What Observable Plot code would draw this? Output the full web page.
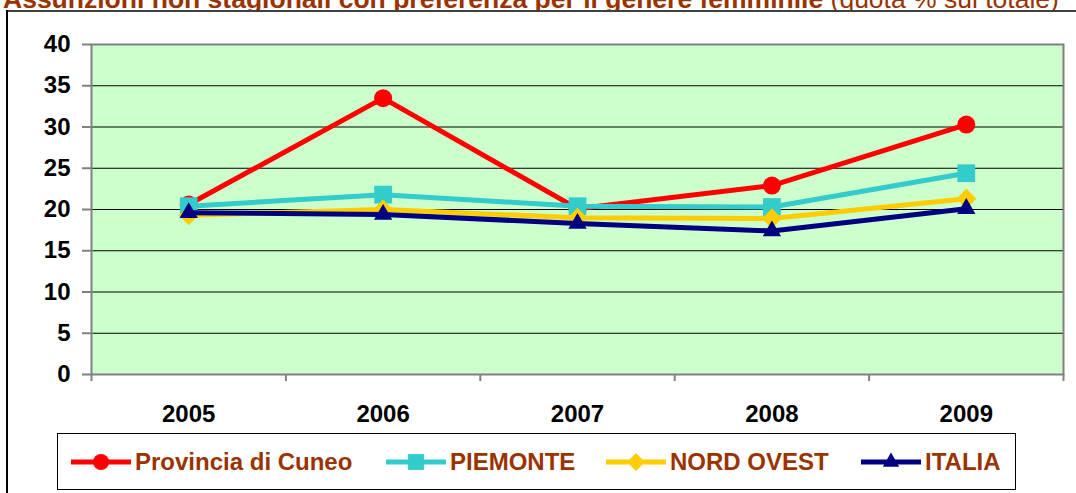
<!DOCTYPE html>
<html>
<head>
<meta charset="utf-8">
<script src="https://cdn.jsdelivr.net/npm/d3@7"></script>
<script src="https://cdn.jsdelivr.net/npm/@observablehq/plot@0.6"></script>
<style>
  html, body { margin: 0; padding: 0; background: #fff; }
  #wrap { position: relative; width: 1076px; height: 493px; overflow: hidden; font-family: "Liberation Sans", Arial, sans-serif; }
  #title { position: absolute; left: 0; top: 0; width: 1076px; height: 10px; overflow: hidden; }
  #title span.t { position: absolute; left: 3px; top: -14.5px; white-space: nowrap; font-size: 26.5px; line-height: 26.5px; color: #993300; }
  #frameTop { position: absolute; left: 7px; top: 10px; width: 1069px; height: 2px; background: #404040; }
  #frameLeft { position: absolute; left: 6px; top: 10px; width: 2px; height: 483px; background: #000; }
  #chart { position: absolute; left: 0; top: 0; }
  #legend { position: absolute; left: 57px; top: 433px; width: 959px; height: 57px; border: 1.5px solid #000; box-sizing: border-box; background: #fff; }
  .item { position: absolute; top: 0; height: 100%; display: flex; align-items: center; }
  .item span { font-size: 24px; font-weight: bold; color: #993300; white-space: nowrap; margin-left: 4px; }
</style>
</head>
<body>
<div id="wrap">
  <div id="title"><span class="t"><b>Assunzioni non stagionali con preferenza per il genere femminile</b> (quota % sul totale)</span></div>
  <div id="chart"></div>
  <div id="frameTop"></div>
  <div id="frameLeft"></div>
  <div id="legend"></div>
</div>
<script>
// ---- data ----
const years = [2005, 2006, 2007, 2008, 2009];
const seriesNames = ["Provincia di Cuneo", "PIEMONTE", "NORD OVEST", "ITALIA"];
const cuneo     = [20.6, 33.5, 20.1, 22.9, 30.3];
const piemonte  = [20.4, 21.8, 20.4, 20.3, 24.4];
const nordOvest = [19.3, 20.0, 19.0, 18.9, 21.3];
const italia    = [19.6, 19.4, 18.3, 17.4, 20.1];
const yTicks = [0, 5, 10, 15, 20, 25, 30, 35, 40];

// ---- styling ----
const colors = ["#FF0000", "#33CCCC", "#FFCC00", "#000080"];
const symbols = ["circle", "square", d3.symbolDiamond2 || "diamond", "triangle"];
const symbolR = [9, 10, 9, 6.8];
const legendX = [13, 328, 548, 803]; // left offsets inside legend box

const values = [cuneo, piemonte, nordOvest, italia];
const table = [];
seriesNames.forEach((s, i) => years.forEach((y, j) => table.push({series: s, year: y, value: values[i][j]})));

const bounds = years.map(y => y - 0.5).concat([years[years.length - 1] + 0.5]);

const marks = [
  Plot.frame({fill: "#CCFFCC"}),
  Plot.ruleY(yTicks.filter(v => v > 0 && v < 40), {stroke: "#000", strokeWidth: 1}),
  Plot.frame({stroke: "#808080", strokeWidth: 2}),
  Plot.axisY({ticks: yTicks, tickSize: 9, tickPadding: 12, stroke: "#808080", strokeWidth: 2, fill: "#000", fontSize: 24, fontWeight: "bold", tickFormat: d => String(d), label: null}),
  Plot.axisX({ticks: bounds, tickSize: 7, stroke: "#808080", strokeWidth: 2, tickFormat: () => "", label: null}),
  Plot.axisX({ticks: years, tickSize: 0, tickPadding: 30, fill: "#000", fontSize: 24, fontWeight: "bold", tickFormat: d => String(d), label: null})
];
seriesNames.forEach((s, i) => {
  const d = table.filter(r => r.series === s);
  marks.push(Plot.line(d, {x: "year", y: "value", stroke: colors[i], strokeWidth: 5}));
  marks.push(Plot.dot(d, {x: "year", y: "value", fill: colors[i], symbol: () => symbols[i], r: symbolR[i]}));
});

const plot = Plot.plot({
  width: 1076,
  height: 493,
  marginLeft: 91,
  marginRight: 13,
  marginTop: 44,
  marginBottom: 119,
  x: {type: "linear", domain: [years[0] - 0.5, years[years.length - 1] + 0.5], axis: null},
  y: {domain: [0, 40], axis: null},
  style: {fontFamily: "'Liberation Sans', Arial, sans-serif", background: "transparent", overflow: "visible"},
  marks
});
document.getElementById("chart").appendChild(plot);

// ---- legend ----
const legend = document.getElementById("legend");
seriesNames.forEach((s, i) => {
  const item = document.createElement("div");
  item.className = "item";
  item.style.left = legendX[i] + "px";
  const sw = d3.create("svg").attr("width", 60).attr("height", 24);
  sw.append("line").attr("x1", 0).attr("x2", 60).attr("y1", 12).attr("y2", 12).attr("stroke", colors[i]).attr("stroke-width", 5);
  const sym = typeof symbols[i] === "string"
    ? ({circle: d3.symbolCircle, square: d3.symbolSquare, triangle: d3.symbolTriangle, diamond: d3.symbolDiamond})[symbols[i]]
    : symbols[i];
  sw.append("path").attr("transform", "translate(30,12)").attr("d", d3.symbol(sym, Math.PI * symbolR[i] * symbolR[i] * 0.8)()).attr("fill", colors[i]);
  item.appendChild(sw.node());
  const t = document.createElement("span");
  t.textContent = s;
  item.appendChild(t);
  legend.appendChild(item);
});
</script>
</body>
</html>
